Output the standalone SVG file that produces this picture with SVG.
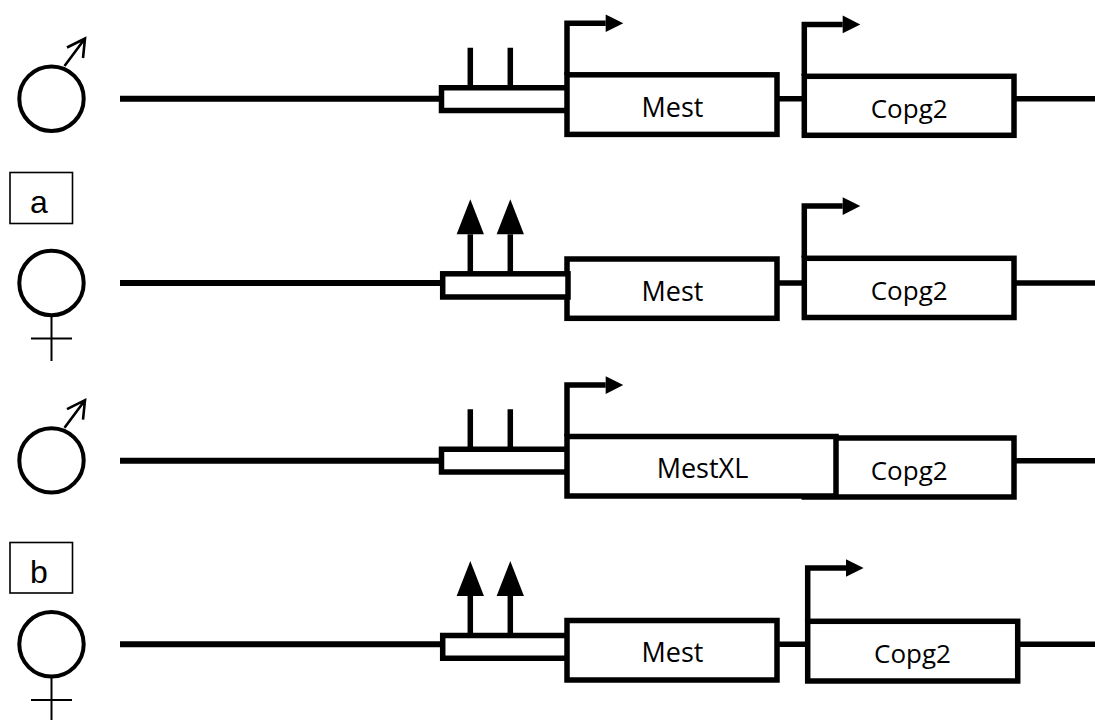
<svg xmlns="http://www.w3.org/2000/svg" width="1095" height="720" viewBox="0 0 1095 720">
<style>
.bg{fill:#fff}
.box{fill:#fff;stroke:#000;stroke-width:5.5;stroke-linejoin:miter}
.line{fill:none;stroke:#000;stroke-width:5.5}
.chrom{fill:none;stroke:#000;stroke-width:6}
.sex{fill:#fff;stroke:#000;stroke-width:4}
.male{fill:none;stroke:#000;stroke-width:2.6}
.female{fill:none;stroke:#000;stroke-width:2}
.tag{fill:#fff;stroke:#000;stroke-width:1.6}
.gene{font-family:"Open Sans","Noto Sans",sans-serif;font-size:27px;fill:#000;text-anchor:middle}
.copg{font-family:"Open Sans","Noto Sans",sans-serif;font-size:26px;fill:#000;text-anchor:middle}
.tagt{font-family:"Liberation Sans",Arial,sans-serif;font-size:32px;fill:#000;text-anchor:middle}
</style>
<defs>
<marker id="tss" markerUnits="userSpaceOnUse" markerWidth="18" markerHeight="18" refX="0" refY="8.8" orient="auto" overflow="visible"><path d="M0 0L17.6 8.8L0 17.6z" fill="#000"/></marker>
<marker id="up" markerUnits="userSpaceOnUse" markerWidth="36" markerHeight="28" refX="0" refY="13.65" orient="auto" overflow="visible"><path d="M0 0L35 13.65L0 27.3z" fill="#000"/></marker>
</defs>
<rect class="bg" width="1095" height="720"/>
<g id="connectors">
<path class="chrom" d="M120 98.7H441M120 283H442M120 460.7H441M120 644.3H442"/>
<path class="line" d="M777 98.7H804M1014 98.7H1095M777 283H804M1014 283H1095M1014 460.7H1095M777 644.3H808M1017.7 644.3H1095"/>
<path class="line" d="M567 75V23.3H605.7" marker-end="url(#tss)"/>
<path class="line" d="M804.3 76V24.4H842.7" marker-end="url(#tss)"/>
<path class="line" d="M804.3 258V206.1H842.7" marker-end="url(#tss)"/>
<path class="line" d="M567 436V385.1H605.7" marker-end="url(#tss)"/>
<path class="line" d="M807.7 621V568H846" marker-end="url(#tss)"/>
<path class="line" d="M470.3 88V47.7M510.3 88V47.7M470.3 451V409.3M510.3 451V409.3"/>
<path class="line" d="M470.3 274V234.3" marker-end="url(#up)"/>
<path class="line" d="M510.3 274V234.3" marker-end="url(#up)"/>
<path class="line" d="M470.3 636V596" marker-end="url(#up)"/>
<path class="line" d="M510.3 636V596" marker-end="url(#up)"/>
</g>
<g id="symbol-male-1"><circle class="sex" cx="51.5" cy="98.7" r="32.2"/><path class="male" d="M64.5 66L85 38.5M67 47.5L85 38.5L83 58"/></g>
<g id="tag-a"><rect class="tag" x="10" y="172.5" width="62.5" height="51"/><text class="tagt" x="39" y="213">a</text></g>
<g id="symbol-female-1"><circle class="sex" cx="51.5" cy="283" r="32.2"/><path class="female" d="M51.5 316V361M31 338.5H72"/></g>
<g id="symbol-male-2"><circle class="sex" cx="51.5" cy="460.4" r="32.2"/><path class="male" d="M64.5 427.7L85 400.2M67 409.2L85 400.2L83 419.7"/></g>
<g id="tag-b"><rect class="tag" x="10" y="542.5" width="62.5" height="50.5"/><text class="tagt" x="39" y="583">b</text></g>
<g id="symbol-female-2"><circle class="sex" cx="51.5" cy="644.3" r="32.2"/><path class="female" d="M51.5 678V720M31 700H72"/></g>
<g id="row1-cpg"><path class="box" d="M567 87.8H441.5V110.4H567"/></g>
<g id="row1-mest"><rect class="box" x="567" y="74.8" width="210" height="59.6"/><text class="gene" x="672.5" y="117">Mest</text></g>
<g id="row1-copg2"><rect class="box" x="804.3" y="76.3" width="209.7" height="59"/><text class="copg" x="909.2" y="117.7">Copg2</text></g>
<g id="row2-mest"><rect class="box" x="567" y="259" width="210" height="59.3"/><text class="gene" x="672.5" y="301">Mest</text></g>
<g id="row2-cpg"><rect class="box" x="442.7" y="273.8" width="125.3" height="23.2"/></g>
<g id="row2-copg2"><rect class="box" x="804.3" y="258.3" width="209.7" height="59.2"/><text class="copg" x="909.2" y="300">Copg2</text></g>
<g id="row3-cpg"><path class="box" d="M567 449.2H441.5V472H567"/></g>
<g id="row3-copg2"><rect class="box" x="804.3" y="438" width="209.7" height="59"/><text class="copg" x="909.2" y="480">Copg2</text></g>
<g id="row3-mestxl"><path class="box" d="M567 436.5H836V496H567z"/><text class="gene" x="702.5" y="477.7">MestXL</text></g>
<g id="row4-cpg"><path class="box" d="M567 635.5H442.7V658.3H567"/></g>
<g id="row4-mest"><rect class="box" x="567" y="620.5" width="210" height="59.5"/><text class="gene" x="672.5" y="662">Mest</text></g>
<g id="row4-copg2"><rect class="box" x="807.7" y="621.3" width="210" height="59.7"/><text class="copg" x="912.5" y="663.3">Copg2</text></g>
</svg>
